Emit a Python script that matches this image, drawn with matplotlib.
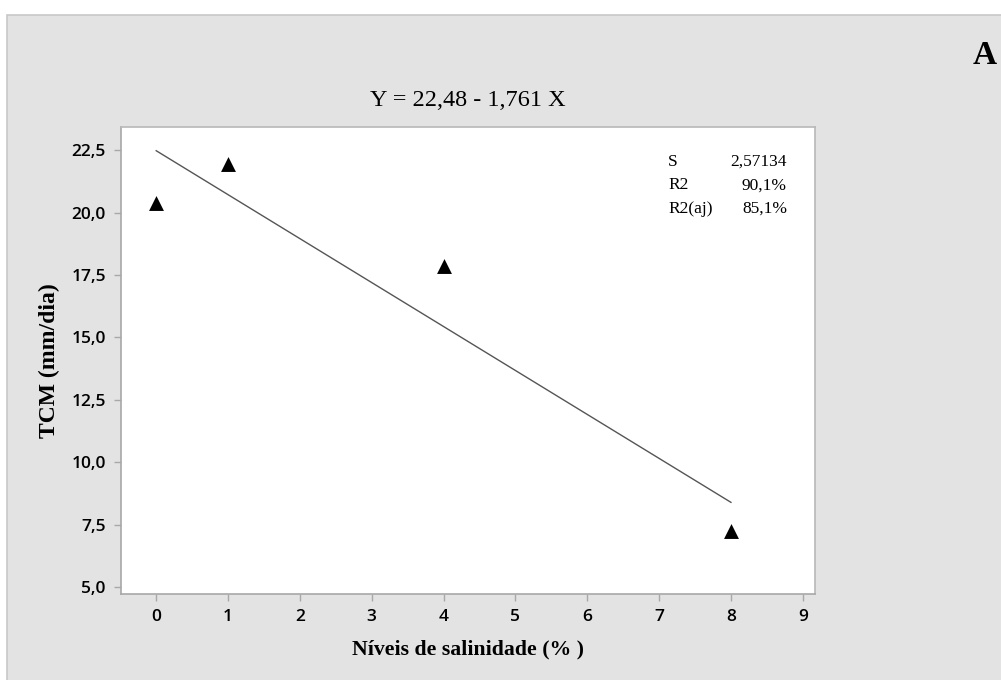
import matplotlib
matplotlib.use("Agg")
import matplotlib.pyplot as plt
from matplotlib.patches import Rectangle
import numpy as np

# Data
x_levels = [0, 1, 4, 8]
tcm_values = [20.4, 21.93, 17.85, 7.25]
intercept = 22.48
slope = -1.761
x_ticks = [0, 1, 2, 3, 4, 5, 6, 7, 8, 9]
y_ticks = [5.0, 7.5, 10.0, 12.5, 15.0, 17.5, 20.0, 22.5]
stat_names = ["S", "R2", "R2(aj)"]
stat_values = ["2,57134", "90,1%", "85,1%"]

W, H = 1001, 680
fig = plt.figure(figsize=(W / 100, H / 100), dpi=100)
fig.patch.set_facecolor("white")

# grey panel with border
panel = Rectangle((7 / W, -0.01), 1.0, (H - 15) / H + 0.01, transform=fig.transFigure,
                  facecolor="#e3e3e3", edgecolor="#c8c8c8", linewidth=1.2, zorder=-10)
fig.patches.append(panel)

ax = fig.add_axes([121 / W, (H - 594) / H, 694 / W, 467 / H])
ax.set_facecolor("white")
ax.set_zorder(1)

xs = np.array([0, 8])
ax.plot(xs, intercept + slope * xs, color="#555555", linewidth=1.0, zorder=2)
ax.scatter(x_levels, tcm_values, marker="^", s=115, color="black", zorder=3, linewidths=0)

ax.set_xlim(-0.49, 9.17)
ax.set_ylim(4.72, 23.43)
ax.set_xticks(x_ticks)
ax.set_yticks(y_ticks)
ax.set_xticklabels([str(t) for t in x_ticks])
ax.set_yticklabels([f"{t:.1f}".replace(".", ",") for t in y_ticks])

for sp in ax.spines.values():
    sp.set_color("#a8a8a8")
    sp.set_linewidth(1.2)
ax.spines["top"].set_color("#b8b8b8")
ax.spines["right"].set_color("#b8b8b8")
ax.tick_params(axis="both", direction="out", length=5, width=1, color="#a8a8a8",
               labelsize=12.5, pad=6, labelcolor="#000000")
for lab in ax.get_xticklabels() + ax.get_yticklabels():
    lab.set_family("Open Sans")
    lab.set_fontweight("semibold")

serif = "Liberation Serif"
ax.set_xlabel("Níveis de salinidade (% )", fontfamily=serif, fontweight="bold", fontsize=15.7, labelpad=10)
ax.set_ylabel("TCM (mm/dia)", fontfamily=serif, fontweight="bold", fontsize=17, labelpad=8)
ax.set_title("Y = 22,48 - 1,761 X", fontfamily=serif, fontsize=17.5, pad=15)

# stats box
for i, (n, v) in enumerate(zip(stat_names, stat_values)):
    yy = 162 + i * 23.5
    ax.text(668 / W, 1 - yy / H, n, transform=fig.transFigure, fontfamily=serif,
            fontsize=12.5, va="center", ha="left")
    ax.text(787 / W, 1 - yy / H, v, transform=fig.transFigure, fontfamily=serif,
            fontsize=12.5, va="center", ha="right")

fig.text(985 / W, 1 - 55 / H, "A", fontfamily=serif, fontweight="bold", fontsize=24,
         va="center", ha="center")

fig.savefig("out.png", dpi=100)
